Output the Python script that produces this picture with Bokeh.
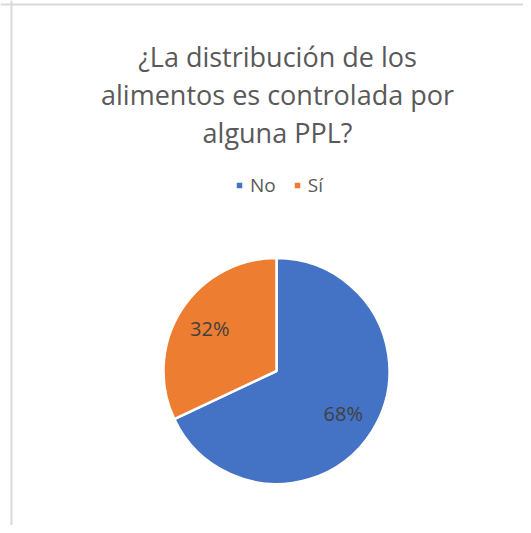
import numpy as np
from bokeh.plotting import figure
from bokeh.models import ColumnDataSource, Range1d, Legend, LegendItem, Span
from bokeh.core.properties import value
from bokeh.embed import file_html
from bokeh.resources import INLINE

title_lines = ["¿La distribución de los", "alimentos es controlada por", "alguna PPL?"]
categories = ["No", "Sí"]
shares = [0.68, 0.32]
colors = ["#4472C4", "#ED7D31"]

W, H = 523, 525
p = figure(width=W, height=H, output_backend="svg", toolbar_location=None,
           x_range=Range1d(0, W), y_range=Range1d(0, H),
           min_border_left=0, min_border_right=0, min_border_top=0, min_border_bottom=0)
p.axis.visible = False
p.grid.visible = False
p.outline_line_color = None
p.background_fill_color = "white"
p.border_fill_color = "white"

def py(pic_y):
    return H - pic_y

# chart-area border (left and top visible)
p.add_layout(Span(location=11, dimension="height", line_color="#D9D9D9", line_width=2))
p.add_layout(Span(location=py(4), dimension="width", line_color="#D9D9D9", line_width=2))

cx, cy, r = 276, py(370.5), 113
frac = np.array(shares)
cum = np.concatenate([[0], np.cumsum(frac)])
start = np.pi / 2 - 2 * np.pi * cum[:-1]
end = np.pi / 2 - 2 * np.pi * cum[1:]
mid = (start + end) / 2

src = ColumnDataSource(dict(cat=categories, start=start, end=end, color=colors,
                            x=[cx] * len(categories), y=[cy] * len(categories)))
wr = p.wedge(x="x", y="y", radius=r, start_angle="start", end_angle="end",
             direction="clock", fill_color="color", line_color="white", line_width=2.5,
             source=src)

lab_r = 0.70 * r
lsrc = ColumnDataSource(dict(x=cx + lab_r * np.cos(mid), y=cy + lab_r * np.sin(mid),
                             t=[f"{round(s*100)}%" for s in shares]))
p.text(x="x", y="y", text="t", source=lsrc, text_font=value("Open Sans"),
       text_font_size="20px", text_color="#404040", text_align="center",
       text_baseline="middle")

tsrc = ColumnDataSource(dict(x=[277] * 3, y=[py(56), py(94), py(132)], t=title_lines))
p.text(x="x", y="y", text="t", source=tsrc, text_font=value("Open Sans"),
       text_font_size="27px", text_color="#595959", text_align="center",
       text_baseline="alphabetic")

items = [LegendItem(label=c, renderers=[wr], index=i) for i, c in enumerate(categories)]
legend = Legend(items=items, orientation="horizontal", location=(234, py(198)),
                label_text_font="Open Sans", label_text_font_size="19px",
                label_text_color="#595959", glyph_width=10, glyph_height=10,
                border_line_color=None, background_fill_alpha=0, margin=0,
                padding=0, spacing=16, label_standoff=6)
p.add_layout(legend, "center")

open("out.html", "w").write(file_html(p, INLINE))
